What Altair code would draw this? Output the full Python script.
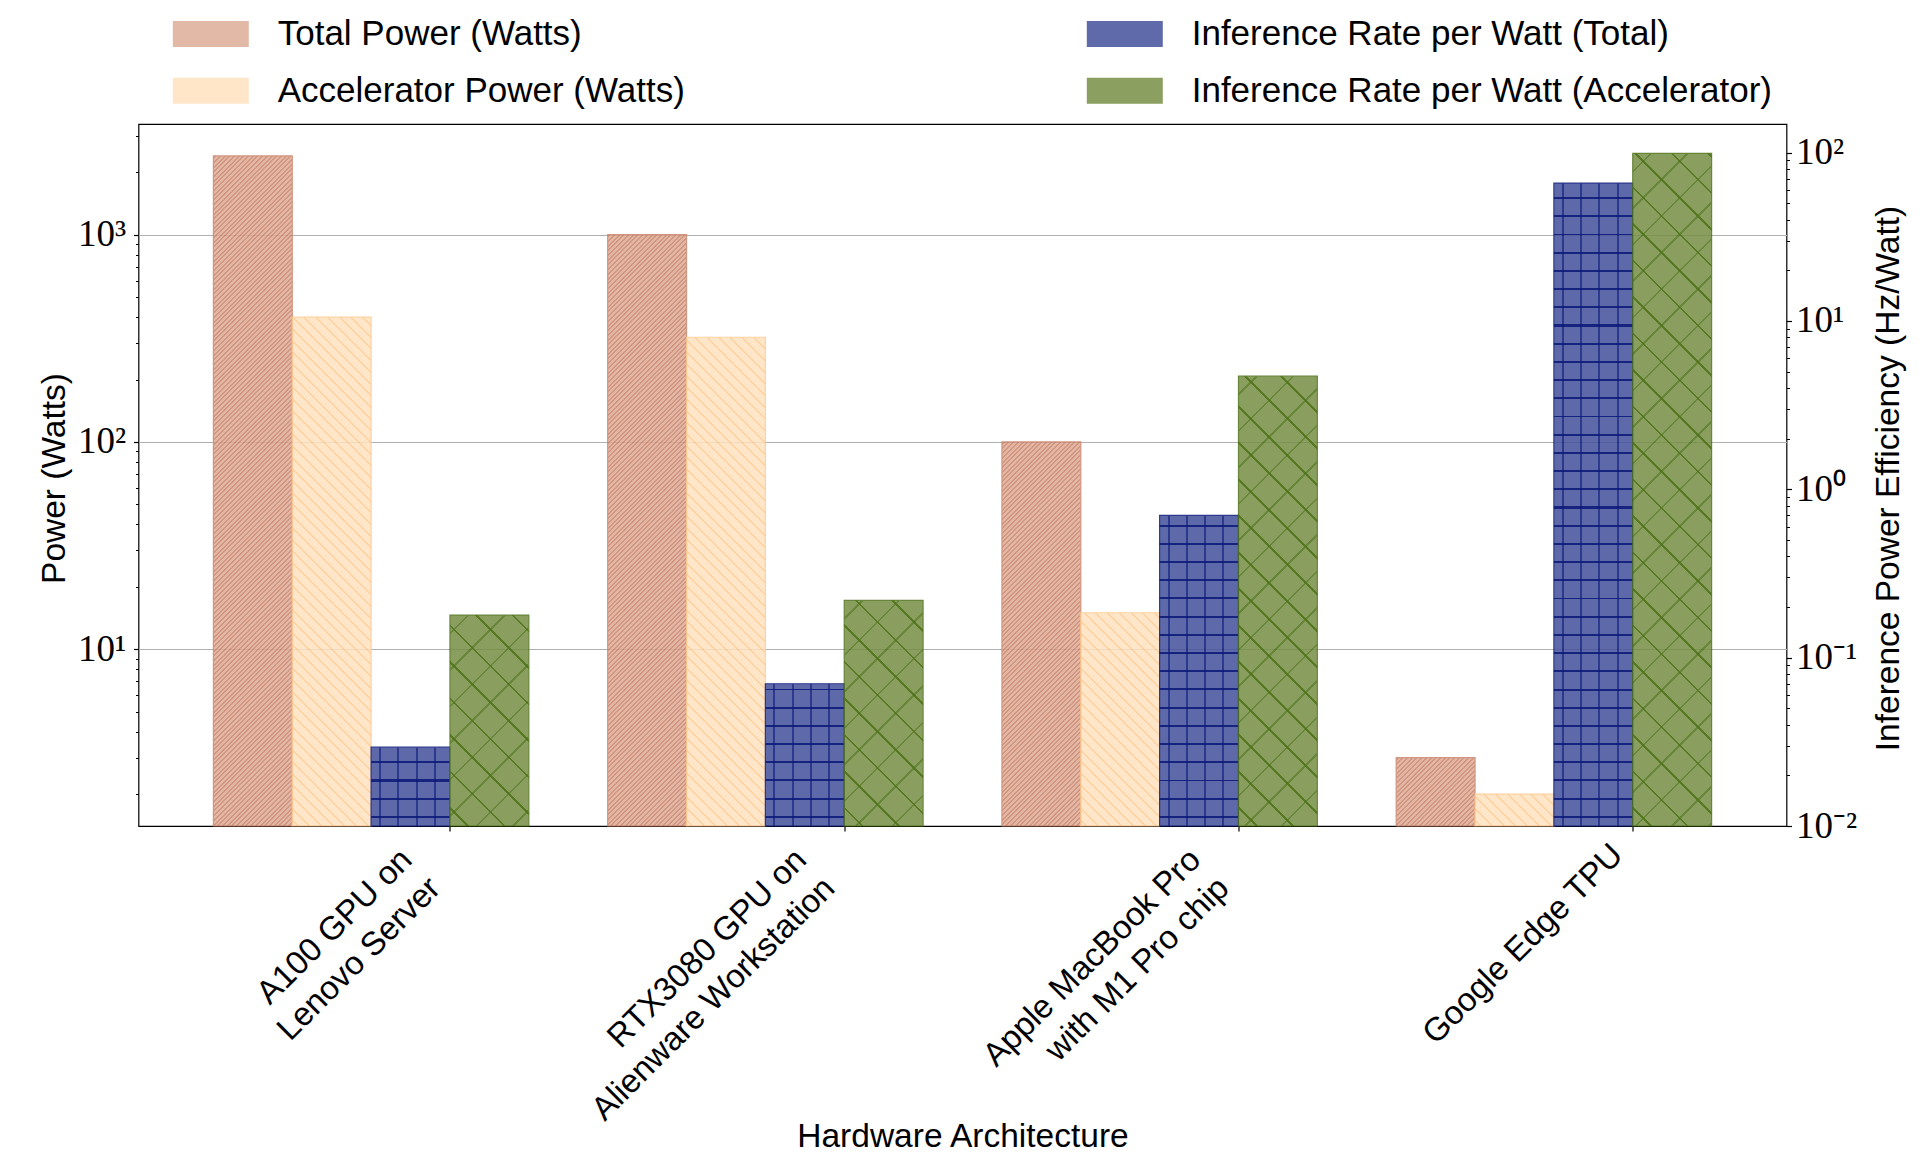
import math
import json
import altair as alt
import pandas as pd

# ---------------- data ----------------
categories = [
    "A100 GPU on\nLenovo Server",
    "RTX3080 GPU on\nAlienware Workstation",
    "Apple MacBook Pro\nwith M1 Pro chip",
    "Google Edge TPU",
]
total_power_w = [2400, 1000, 100, 3]
accel_power_w = [400, 320, 15, 2]
rate_per_watt_total = [0.0294, 0.070, 0.70, 66]
rate_per_watt_accel = [0.179, 0.219, 4.7, 99]
series_names = [
    "Total Power (Watts)",
    "Accelerator Power (Watts)",
    "Inference Rate per Watt (Total)",
    "Inference Rate per Watt (Accelerator)",
]
left_tick_values = [10, 100, 1000]
left_tick_labels = ["10¹", "10²", "10³"]
right_tick_values = [0.01, 0.1, 1, 10, 100]
right_tick_labels = ["10⁻²", "10⁻¹", "10⁰", "10¹", "10²"]
left_minor_ticks = [2, 3, 4, 5, 6, 7, 8, 9, 20, 30, 40, 50, 60, 70, 80, 90,
                    200, 300, 400, 500, 600, 700, 800, 900, 2000, 3000]
right_minor_ticks = [0.02, 0.03, 0.04, 0.05, 0.06, 0.07, 0.08, 0.09,
                     0.2, 0.3, 0.4, 0.5, 0.6, 0.7, 0.8, 0.9,
                     2, 3, 4, 5, 6, 7, 8, 9, 20, 30, 40, 50, 60, 70, 80, 90]

# ---------------- layout / style ----------------
PW, PH = 1648, 702
XDOM = [-0.79, 3.39]
LDOM = [1.403, 3421.0]
RDOM = [0.01, 148.0]
BAR_FRAC = 0.2
OPA = 0.85
SANS = "Liberation Sans"
SERIF = "Liberation Serif"
FS = 33.5
XFS = 33
LEG_FS = 35

# observed (over white) fill / hatch colours
styles = [
    dict(fill="#e2b8a6", line="#d39680", hatch=[("/", 4.7, 1.4)]),
    dict(fill="#ffe6c9", line="#ffd2a0", hatch=[("\\", 11.7, 1.4)]),
    dict(fill="#5f6aaa", line="#2e3a8c", hatch=[("|", 18.2, 2.0), ("-", 18.2, 2.0)]),
    dict(fill="#8a9f60", line="#68873a", hatch=[("/", 36.5, 1.8), ("\\", 36.5, 1.8)]),
]


def rgb(h):
    return tuple(int(h[i:i + 2], 16) for i in (1, 3, 5))


def hexc(t):
    return "#%02x%02x%02x" % tuple(max(0, min(255, round(c))) for c in t)


def under(h):
    return hexc([(c - 255 * (1 - OPA)) / OPA for c in rgb(h)])


def transparent(h):
    r, g, b = rgb(under(h))
    return f"rgba({r},{g},{b},0)"


def hatch_gradient(kind, W, H, bg, fg, period, lw):
    if kind in ("/", "\\"):
        lam = (W + H) / (W * W + H * H)
        if kind == "/":
            g = dict(x1=0, y1=0, x2=W * lam, y2=H * lam)
        else:
            g = dict(x1=0, y1=1, x2=W * lam, y2=1 - H * lam)
        span = W + H
        step = period / span
        tw = lw * math.sqrt(2) / span
    elif kind == "|":
        g = dict(x1=0, y1=0, x2=1, y2=0)
        step = period / W
        tw = lw / W
    else:
        g = dict(x1=0, y1=1, x2=0, y2=0)
        step = period / H
        tw = lw / H
    stops = [(0.0, bg)]
    t = step * 0.5 - tw / 2
    while t < 1:
        a = max(t, 0.0)
        b = min(t + tw, 1.0)
        stops += [(a, bg), (a, fg), (b, fg), (b, bg)]
        t += step
    stops.append((1.0, bg))
    return {"gradient": "linear", **{k: round(v, 6) for k, v in g.items()},
            "stops": [{"offset": round(o, 6), "color": c} for o, c in stops]}


def px_height(v, dom):
    lo, hi = math.log10(dom[0]), math.log10(dom[1])
    return PH * (math.log10(v) - lo) / (hi - lo)


BAR_W = BAR_FRAC / (XDOM[1] - XDOM[0]) * PW

# ---------------- table ----------------
rows = []
series_values = [total_power_w, accel_power_w, rate_per_watt_total, rate_per_watt_accel]
bid = 0
for i, cat in enumerate(categories):
    for k, name in enumerate(series_names):
        x0 = i - 0.6 + BAR_FRAC * k
        rows.append(dict(bar_id=bid, cat=i, k=k, series=name,
                         value=series_values[k][i], x0=x0, x1=x0 + BAR_FRAC))
        bid += 1
df = pd.DataFrame(rows)

xscale = alt.Scale(domain=XDOM, nice=False, zero=False)
lscale = alt.Scale(type="log", domain=LDOM, nice=False)
rscale = alt.Scale(type="log", domain=RDOM, nice=False)


def tick_label_expr(values, labels):
    parts = [f"abs(datum.value - {v}) < {v * 1e-6} ? {json.dumps(l)}" for v, l in zip(values, labels)]
    return " : ".join(parts) + " : ''"


x_label_expr = " : ".join(
    f"datum.value == {i} ? {json.dumps(c.split(chr(10)))}" for i, c in enumerate(categories)
) + " : ''"

layers = []

# bars + hatch overlays
for r in rows:
    st = styles[r["k"]]
    dom = LDOM if r["k"] < 2 else RDOM
    sc = lscale if r["k"] < 2 else rscale
    H = px_height(r["value"], dom)
    W = BAR_W
    for j, (kind, per, lw) in enumerate(st["hatch"]):
        bg = under(st["fill"]) if j == 0 else transparent(st["line"])
        grad = hatch_gradient(kind, W, H, bg, under(st["line"]), per, lw)
        mk = dict(fill=grad, opacity=OPA)
        if j == 0:
            mk.update(stroke=under(st["line"]), strokeWidth=1.2)
        else:
            mk.update(strokeWidth=0)
        layers.append(
            alt.Chart(df).transform_filter(alt.datum.bar_id == r["bar_id"]).mark_bar(**mk).encode(
                x=alt.X("x0:Q", scale=xscale, axis=None),
                x2=alt.X2("x1:Q"),
                y=alt.Y("value:Q", scale=sc, axis=None, stack=None),
                y2=alt.datum(dom[0]),
            )
        )

# axis layers
two_line = [i for i, c in enumerate(categories) if "\n" in c]
one_line = [i for i, c in enumerate(categories) if "\n" not in c]


def x_axis(values, offset, pad, with_title):
    kw = dict(
        orient="bottom", values=values, labelExpr=x_label_expr,
        labelAngle=315, labelAlign="right", labelBaseline="top",
        labelFont=SANS, labelFontSize=XFS, labelColor="black", labelLineHeight=40,
        labelLimit=2000, labelOffset=offset, labelPadding=pad,
        labelOverlap=False, labelFlush=False, labelBound=False,
        tickSize=5, tickWidth=1.2, tickColor="black", domain=False, grid=False,
    )
    if with_title:
        kw.update(title="Hardware Architecture", titleFont=SANS, titleFontSize=FS,
                  titleFontWeight="normal", titleColor="black", titleBaseline="top",
                  titleY=294)
    else:
        kw.update(title=None)
    return alt.Axis(**kw)


left_axis = alt.Axis(
    orient="left", values=left_tick_values,
    labelExpr=tick_label_expr(left_tick_values, left_tick_labels),
    labelFont=SERIF, labelFontSize=37, labelColor="black", labelPadding=8,
    labelOverlap=False, labelFlush=False,
    tickSize=5, tickWidth=1.2, tickColor="black", domain=False,
    grid=True, gridColor="#b0b0b0", gridWidth=1.1,
    title="Power (Watts)", titleFont=SANS, titleFontSize=FS, titleFontWeight="normal",
    titleColor="black", titleAngle=270, titleBaseline="bottom", titleAlign="center",
    titleX=-67, titleY=354,
)
left_minor = alt.Axis(orient="left", values=left_minor_ticks, labels=False, tickSize=3,
                      tickWidth=1, tickColor="black", domain=False, grid=False, title=None)
right_axis = alt.Axis(
    orient="right", values=right_tick_values,
    labelExpr=tick_label_expr(right_tick_values, right_tick_labels),
    labelFont=SERIF, labelFontSize=37, labelColor="black", labelPadding=4,
    labelOverlap=False, labelFlush=False,
    tickSize=5, tickWidth=1.2, tickColor="black", domain=False, grid=False,
    title="Inference Power Efficiency (Hz/Watt)", titleFont=SANS, titleFontSize=FS,
    titleFontWeight="normal", titleColor="black", titleAngle=270,
    titleBaseline="bottom", titleAlign="center", titleX=119, titleY=354,
)
right_minor = alt.Axis(orient="right", values=right_minor_ticks, labels=False, tickSize=3,
                       tickWidth=1, tickColor="black", domain=False, grid=False, title=None)

left_df = df[df.k < 2]
right_df = df[df.k >= 2]
layers.append(alt.Chart(left_df).mark_point(opacity=0).encode(
    x=alt.X("x0:Q", scale=xscale, axis=x_axis(two_line, -55, 12, True)),
    y=alt.Y("value:Q", scale=lscale, axis=left_axis)))
layers.append(alt.Chart(left_df).mark_point(opacity=0).encode(
    x=alt.X("x0:Q", scale=xscale, axis=x_axis(one_line, -27, 7, False)),
    y=alt.Y("value:Q", scale=lscale, axis=left_minor)))
layers.append(alt.Chart(right_df).mark_point(opacity=0).encode(
    x=alt.X("x0:Q", scale=xscale, axis=None),
    y=alt.Y("value:Q", scale=rscale, axis=right_axis)))
layers.append(alt.Chart(right_df).mark_point(opacity=0).encode(
    x=alt.X("x0:Q", scale=xscale, axis=None),
    y=alt.Y("value:Q", scale=rscale, axis=right_minor)))

# legend layer (no marks drawn, legend from the explicit colour domain)
legend_order = list(series_names)
legend_colors = [under(styles[series_names.index(n)]["fill"]) for n in legend_order]
SYM_W, SYM_H = 76, 26
sym_path = f"M{-SYM_W / SYM_H:.4f},-1H{SYM_W / SYM_H:.4f}V1H{-SYM_W / SYM_H:.4f}Z"

legend = alt.Legend(
    title=None, orient="none", legendX=29.8, legendY=-107.8, columns=2,
    columnPadding=397, rowPadding=21, padding=0,
    symbolType=sym_path, symbolSize=SYM_H * SYM_H, symbolStrokeWidth=0,
    symbolOffset=(SYM_W - SYM_H) / 2,
    labelFont=SANS, labelFontSize=LEG_FS, labelColor="black",
    labelOffset=49.4, labelLimit=1000,
)
layers.append(alt.Chart(df).transform_filter("false").mark_bar(opacity=OPA).encode(
    x=alt.X("x0:Q", scale=xscale, axis=None),
    x2=alt.X2("x1:Q"),
    y=alt.Y("value:Q", scale=lscale, axis=None, stack=None),
    color=alt.Color("series:N", scale=alt.Scale(domain=legend_order, range=legend_colors),
                    legend=legend),
))

chart = alt.layer(*layers).resolve_scale(y="independent").resolve_axis(
    x="independent", y="independent"
).properties(
    width=PW, height=PH,
    padding={"left": 130.5, "top": 116, "right": 126, "bottom": 328},
    autosize=alt.AutoSizeParams(type="none"),
).configure_view(stroke="black", strokeWidth=1.2)

chart.save("out.html", embed_options={"renderer": "svg", "actions": False})
